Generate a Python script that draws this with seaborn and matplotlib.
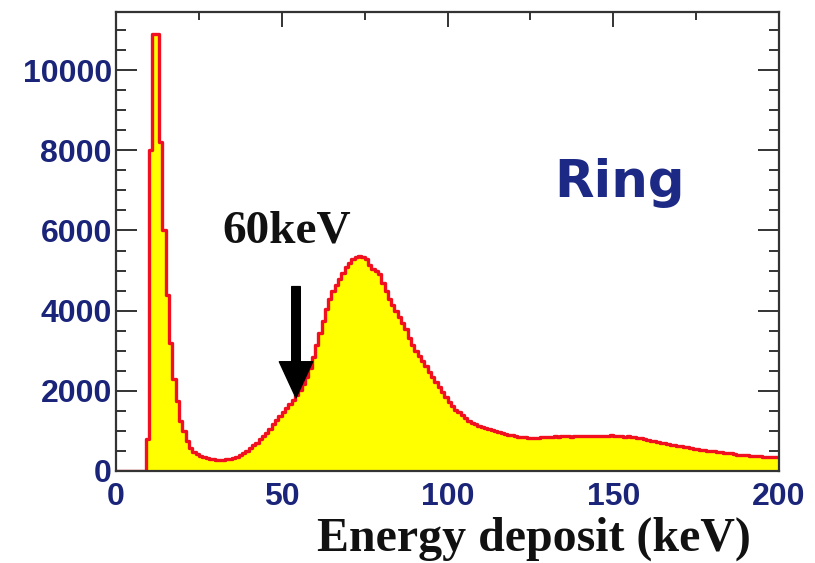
import matplotlib
matplotlib.use("Agg")
import numpy as np
import pandas as pd
import seaborn as sns
import matplotlib.pyplot as plt
from matplotlib.ticker import MultipleLocator

# ---- data (1 keV bins, 0..200 keV) ----
bin_edges = list(range(0, 201))
counts_0_30 = [0, 0, 0, 0, 0, 0, 0, 0, 0, 800,
               8000, 10900, 10900, 8200, 6000, 4400, 3200, 2300, 1750, 1250,
               1000, 750, 575, 470, 420, 370, 340, 320, 300, 290]
counts_30_60 = [280, 275, 280, 290, 305, 330, 360, 400, 450, 510,
                570, 640, 710, 790, 870, 960, 1060, 1160, 1260, 1360,
                1460, 1560, 1660, 1780, 1900, 2030, 2170, 2350, 2580, 2850]
counts_60_100 = [3150, 3450, 3750, 4050, 4300, 4500, 4650, 4800, 4950, 5100,
                 5200, 5300, 5350, 5370, 5350, 5300, 5150, 5050, 5000, 4920,
                 4700, 4480, 4300, 4130, 3980, 3850, 3700, 3530, 3330, 3150,
                 3000, 2860, 2740, 2610, 2470, 2350, 2220, 2100, 1960, 1850]
counts_100_131 = [1720, 1620, 1530, 1460, 1400, 1310, 1240, 1190, 1160, 1130,
                  1110, 1080, 1050, 1020, 990, 970, 950, 930, 910, 890,
                  870, 860, 850, 840, 830, 830, 825, 830, 840, 850, 850]
counts_131_159 = [860, 870, 860, 870, 880, 870, 860, 870, 880, 870,
                  880, 870, 880, 880, 870, 880, 870, 880, 890, 870,
                  880, 870, 860, 870, 850, 840, 830, 820]
counts_159_200 = [800, 780, 750, 740, 720, 700, 690, 670, 660, 640,
                  630, 620, 600, 590, 580, 560, 550, 530, 520, 510,
                  500, 490, 480, 470, 460, 450, 440, 420, 410, 400,
                  395, 390, 380, 375, 370, 365, 360, 355, 350, 345, 340]
counts = (counts_0_30 + counts_30_60 + counts_60_100 + counts_100_131
          + counts_131_159 + counts_159_200)

xticks = [0, 50, 100, 150, 200]
yticks = [0, 2000, 4000, 6000, 8000, 10000]
x_label = "Energy deposit (keV)"
region_label = "Ring"
arrow_label = "60keV"
arrow_x = 54.3
arrow_y_from = 4600
arrow_y_to = 1825

edges = np.array(bin_edges, dtype=float)
centers = (edges[:-1] + edges[1:]) / 2
df = pd.DataFrame({"energy": centers, "count": counts[:len(centers)]})

sns.set_theme(style="ticks")
plt.rcParams["font.family"] = ["Liberation Sans", "DejaVu Sans"]

fig = plt.figure(figsize=(8.15, 5.63), dpi=100)
ax = fig.add_axes([116 / 815, 1 - 471 / 563, 663 / 815, 459 / 563])

sns.histplot(data=df, x="energy", weights="count", binwidth=1,
             binrange=(bin_edges[0], bin_edges[-1]),
             element="step", fill=True, color="#ffff00", alpha=1,
             linewidth=0, ax=ax)
sns.histplot(data=df, x="energy", weights="count", binwidth=1,
             binrange=(bin_edges[0], bin_edges[-1]),
             element="step", fill=False, color="#f01020",
             linewidth=2.4, ax=ax)

ax.set_xlim(0, 200)
ax.set_ylim(0, 11450)
ax.set_xticks(xticks)
ax.set_yticks(yticks)
ax.xaxis.set_minor_locator(MultipleLocator(25))
ax.yaxis.set_minor_locator(MultipleLocator(500))

tick_col = "#333333"
lab_col = "#1a2478"
ax.tick_params(axis="both", which="both", direction="in", top=True, right=True,
               color=tick_col, width=1.4, labelcolor=lab_col)
ax.tick_params(axis="x", which="major", length=11, pad=8)
ax.tick_params(axis="x", which="minor", length=6)
ax.tick_params(axis="y", which="major", length=15, pad=3)
ax.tick_params(axis="y", which="minor", length=7.5)
for lab in ax.get_xticklabels() + ax.get_yticklabels():
    lab.set_fontsize(23)
    lab.set_fontweight("bold")
    lab.set_family(["Liberation Sans", "DejaVu Sans"])

for sp in ax.spines.values():
    sp.set_color(tick_col)
    sp.set_linewidth(1.6)
    sp.set_visible(True)

ax.set_ylabel("")
ax.set_xlabel(x_label, fontsize=34.5, fontweight="bold",
              family=["Liberation Serif", "DejaVu Serif"], color="#111111")
ax.xaxis.label.set_ha("right")
ax.xaxis.label.set_va("baseline")
ax.xaxis.set_label_coords((751 - 116) / 663, -(551 - 471) / 459)

ax.text(152, 6825, region_label, fontsize=37, fontweight="bold",
        family=["DejaVu Sans"], color="#1d2a85", ha="center", va="baseline")
ax.text(32.0, 5700, arrow_label, fontsize=34, fontweight="bold",
        family=["Liberation Serif", "DejaVu Serif"], color="#111111",
        ha="left", va="baseline")
ax.annotate("", xy=(arrow_x, arrow_y_to), xytext=(arrow_x, arrow_y_from),
            arrowprops=dict(arrowstyle="simple,head_length=2.6,head_width=2.4,tail_width=0.62",
                            mutation_scale=10, color="black",
                            shrinkA=0, shrinkB=0))

fig.savefig("out.png", dpi=100, facecolor="white")
